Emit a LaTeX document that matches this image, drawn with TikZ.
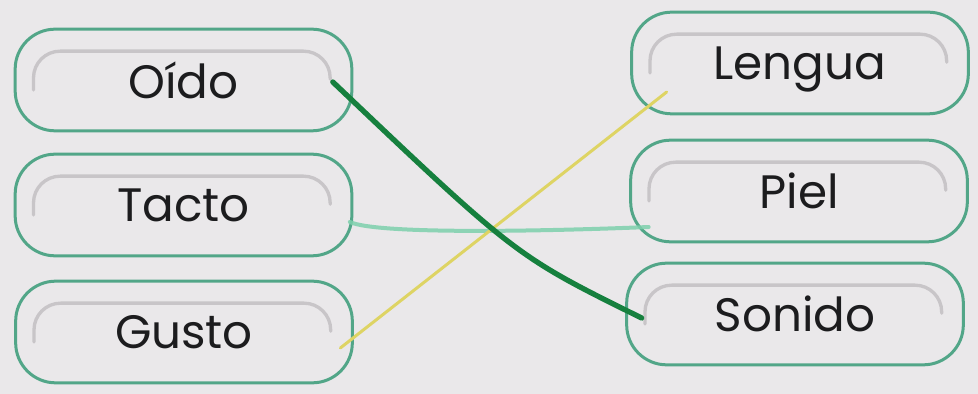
\documentclass[tikz,border=0pt]{standalone}
\usepackage{fontspec}
\setmainfont{Poppins}
\definecolor{nen}{RGB}{234,232,234}
\definecolor{vien}{RGB}{82,166,136}
\definecolor{chu}{RGB}{28,28,30}
\definecolor{bongxam}{RGB}{200,197,200}
\definecolor{xanhdam}{RGB}{22,128,62}
\definecolor{vang}{RGB}{222,212,100}
\definecolor{ngoc}{RGB}{125,208,172}
\begin{document}
\begin{tikzpicture}[x=0.3mm,y=-0.3mm,
	o/.style={draw=vien,line width=0.9mm,rounded corners=12mm,
		minimum width=101mm,minimum height=30.5mm,inner sep=0pt,outer sep=0pt,
		text depth=0pt,text=chu,font=\fontsize{40}{44}\selectfont},
	bong/.style={draw=bongxam,line width=1mm,line cap=round,rounded corners=8mm}]
	% Nền giấy
	\fill[nen] (0,0) rectangle (978,394);
	\useasboundingbox (0,0) rectangle (978,394);
	% Cột trái
	\node[o] (oido) at (183.5,80) {Oído};
	\node[o] (tacto) at (183.5,205) {Tacto};
	\node[o] (gusto) at (184,332) {Gusto};
	% Cột phải
	\node[o] (lengua) at (800,63) {Lengua};
	\node[o] (piel) at (799,191) {Piel};
	\node[o] (sonido) at (795,314) {Sonido};
	% Bóng mờ bên trong khung
	\foreach \n in {oido,tacto,gusto,lengua,piel,sonido}{
		\draw[bong] ([xshift=5.5mm,yshift=-3mm]\n.west)
		|- ([xshift=-6.5mm,yshift=-6.6mm]\n.north east)
		-- ([xshift=-6.5mm,yshift=-15mm]\n.north east);
	}
	% Các đường nối
	\draw[ngoc,line width=1.2mm,line cap=round,opacity=.85]
	([xshift=-0.6mm,yshift=-5.1mm]tacto.east)
	.. controls ([xshift=8mm,yshift=-9mm]tacto.east) and ([xshift=-24mm,yshift=-12mm]piel.west) .. ([xshift=5.4mm,yshift=-10.8mm]piel.west);
	\draw[vang,line width=0.9mm,line cap=round]
	([xshift=-3.6mm,yshift=-4.8mm]gusto.east) -- ([xshift=10.5mm,yshift=-8.7mm]lengua.west);
	\draw[xanhdam,line width=1.6mm,line cap=round]
	([xshift=-5.7mm,yshift=-0.6mm]oido.east)
	.. controls (516,256) .. ([xshift=4.5mm,yshift=-1.2mm]sonido.west);
\end{tikzpicture}
\end{document}
